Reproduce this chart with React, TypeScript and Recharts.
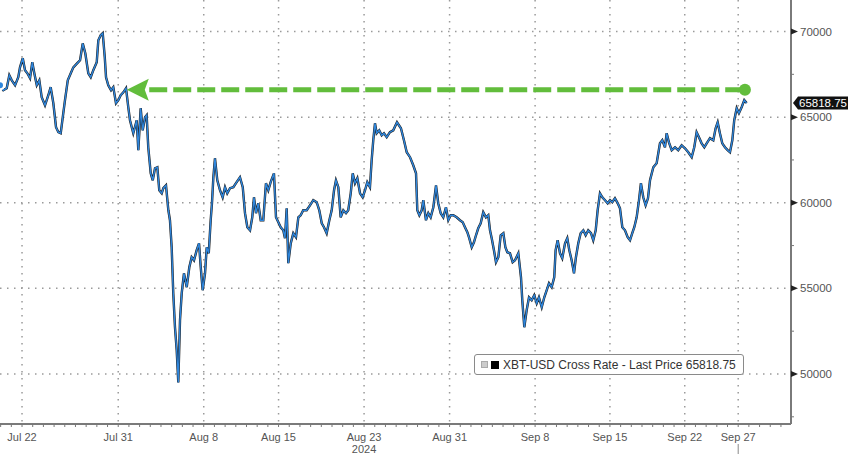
import {
  LineChart, Line, XAxis, YAxis, CartesianGrid, ReferenceLine, ReferenceDot, Legend,
} from 'recharts';

// days since Jul 22 2024 (00:00)
const DAYS = [
  -2.06, -1.75, -1.43, -1.19, -0.96, -0.65, -0.35, -0.19, 0.07, 0.28,
  0.50, 0.75, 0.96, 1.15, 1.38, 1.62, 1.84, 2.15, 2.46, 2.68,
  2.93, 3.18, 3.40, 3.62, 3.81, 4.02, 4.28, 4.56, 4.80, 5.17,
  5.43, 5.68, 5.92, 6.20, 6.43, 6.67, 6.99, 7.14, 7.36, 7.55,
  7.74, 7.86, 8.07, 8.33, 8.54, 8.79, 9.01, 9.23, 9.48, 9.73,
  9.94, 10.10, 10.41, 10.73, 10.88, 11.10, 11.29, 11.51, 11.66, 11.81,
  12.04, 12.23, 12.44, 12.66, 12.84, 13.07, 13.22, 13.47, 13.69, 13.84,
  14.00, 14.15, 14.31, 14.47, 14.62, 14.78, 14.94, 15.15, 15.41, 15.65,
  15.87, 16.09, 16.34, 16.56, 16.72, 16.90, 17.12, 17.28, 17.47, 17.65,
  17.77, 17.90, 18.05, 18.27, 18.52, 18.77, 18.99, 19.20, 19.46, 19.77,
  20.08, 20.39, 20.65, 20.86, 21.08, 21.33, 21.54, 21.70, 21.89, 22.10,
  22.33, 22.57, 22.82, 23.04, 23.26, 23.57, 23.76, 23.98, 24.20, 24.44,
  24.60, 24.76, 24.91, 25.14, 25.38, 25.63, 25.85, 26.07, 26.31, 26.63,
  26.94, 27.25, 27.57, 27.81, 28.04, 28.25, 28.50, 28.75, 28.97, 29.19,
  29.37, 29.59, 29.81, 30.06, 30.31, 30.52, 30.75, 30.94, 31.15, 31.37,
  31.62, 31.87, 32.09, 32.30, 32.55, 32.71, 32.86, 33.02, 33.18, 33.42,
  33.65, 33.86, 34.12, 34.42, 34.73, 35.08, 35.45, 35.73, 35.99, 36.30,
  36.60, 36.86, 36.98, 37.17, 37.39, 37.54, 37.79, 38.01, 38.23, 38.48,
  38.73, 38.94, 39.17, 39.41, 39.66, 39.88, 40.10, 40.35, 40.66, 40.97,
  41.23, 41.44, 41.66, 41.84, 42.07, 42.28, 42.47, 42.68, 42.91, 43.15,
  43.40, 43.62, 43.78, 43.94, 44.15, 44.34, 44.56, 44.78, 45.03, 45.22,
  45.40, 45.65, 45.90, 46.12, 46.43, 46.68, 46.80, 46.99, 47.21, 47.43,
  47.68, 47.92, 48.15, 48.36, 48.62, 48.86, 49.08, 49.30, 49.55, 49.79,
  49.92, 50.11, 50.33, 50.54, 50.80, 51.01, 51.20, 51.42, 51.64, 51.82,
  52.04, 52.26, 52.51, 52.73, 52.97, 53.23, 53.44, 53.67, 53.85, 54.07,
  54.29, 54.54, 54.79, 55.01, 55.22, 55.47, 55.73, 55.94, 56.16, 56.41,
  56.66, 56.88, 57.09, 57.28, 57.50, 57.72, 57.90, 58.12, 58.34, 58.56,
  58.75, 59.06, 59.37, 59.68, 59.90, 60.15, 60.31, 60.52, 60.78, 61.09,
  61.39, 61.71, 62.02, 62.33, 62.65, 62.89, 63.11, 63.33, 63.58, 63.83,
  64.05, 64.36, 64.67, 64.89, 65.08, 65.29, 65.51, 65.76, 66.01, 66.23,
  66.45, 66.63, 66.86, 67.07, 67.32, 67.57, 67.79,
];

const PRICES = [
  66860, 66570, 66690, 67450, 67150, 66860, 67330, 67910, 68440, 67740,
  67560, 67270, 68210, 67560, 66860, 67150, 66160, 65690, 66280, 66750,
  65810, 64410, 64120, 64060, 64990, 65990, 67150, 67560, 67910, 68150,
  68320, 69310, 68730, 67560, 67330, 67740, 68210, 69490, 69780, 69900,
  68500, 67330, 66860, 66570, 66750, 65810, 65990, 66280, 66450, 66690,
  65580, 64820, 64060, 64820, 63070, 65520, 64230, 64990, 65110, 63240,
  61720, 61310, 62010, 62070, 60730, 60550, 60850, 61020, 59560, 58980,
  57400, 54720, 52730, 51390, 49500, 53140, 54720, 55880, 55070, 56230,
  56820, 56640, 57230, 57630, 56230, 54890, 55880, 57400, 57050, 58980,
  59970, 61490, 62600, 61310, 60730, 60320, 60910, 60550, 60850, 60910,
  61200, 61490, 60910, 59390, 58570, 58390, 59150, 60320, 59390, 59970,
  58980, 58980, 61140, 60730, 61200, 61720, 59150, 58860, 58570, 58390,
  57930, 59680, 56470, 57630, 58220, 57990, 59150, 59270, 59560, 59560,
  59850, 60150, 60030, 59560, 58800, 58570, 58220, 58980, 59560, 60730,
  61310, 60910, 59150, 59560, 59390, 59560, 60550, 61720, 61140, 61430,
  60550, 60320, 60730, 61200, 60910, 62480, 63650, 64640, 64060, 64230,
  63940, 64060, 63830, 64120, 64230, 64700, 64350, 63650, 62950, 62660,
  62190, 61720, 59560, 59270, 59560, 60150, 58980, 59390, 59150, 59740,
  61020, 59970, 59390, 59150, 59740, 58980, 59270, 59270, 59150, 58980,
  58860, 58570, 58280, 57930, 57400, 57690, 58100, 58510, 58800, 59450,
  59150, 59270, 58390, 57930, 57230, 56530, 56820, 58100, 58220, 57400,
  57110, 57050, 56530, 56640, 57050, 55650, 54310, 52730, 53720, 54480,
  54310, 54600, 54130, 54480, 53900, 54480, 54890, 55300, 55070, 55650,
  57230, 57810, 57050, 56760, 57630, 57930, 57230, 56640, 55880, 56820,
  57630, 58220, 58390, 58100, 58390, 58220, 57810, 58390, 59560, 60550,
  60320, 60150, 59970, 60150, 60030, 60260, 59970, 59680, 58570, 58390,
  57990, 57810, 58220, 58570, 59150, 60150, 61140, 60320, 59850, 60260,
  61310, 62070, 62310, 63470, 63650, 63240, 64060, 63530, 63070, 63240,
  63070, 63360, 63180, 62950, 62660, 63240, 64120, 63830, 63470, 63240,
  63470, 63770, 63650, 64350, 64700, 64060, 63470, 63240, 63070, 62950,
  63650, 64820, 65520, 65230, 65580, 65990, 65818.75,
];

const SERIES_NAME = 'XBT-USD Cross Rate';
const LAST_PRICE = 65818.75;

const X_TICK_DAYS = [0, 9, 17, 24, 32, 40, 48, 55, 62, 67];
const X_TICK_LABELS = ['Jul 22', 'Jul 31', 'Aug 8', 'Aug 15', 'Aug 23', 'Aug 31', 'Sep 8', 'Sep 15', 'Sep 22', 'Sep 27'];
const YEAR_LABEL = '2024';
const YEAR_UNDER = 'Aug 23';
const X_MINOR_DAYS = Array.from({ length: 74 }, (_, i) => i - 2);

const Y_TICKS = [50000, 55000, 60000, 65000, 70000];
const Y_ALL_TICKS = [47500, 50000, 52500, 55000, 57500, 60000, 62500, 65000, 67500, 70000];

// green "round trip" level annotation
const LEVEL = 66600;
const LEVEL_FROM = 9.8;
const LEVEL_LINE_FROM = 11.9;
const LEVEL_TO = 67.63;

const GREEN = '#62bd3c';
const FONT = '"Liberation Sans", Arial, sans-serif';

const data = DAYS.map((d, i) => ({ d, p: PRICES[i] }));

const XTick = ({ x, y, payload }: any) => {
  const i = X_TICK_DAYS.indexOf(payload.value);
  const label = i >= 0 ? X_TICK_LABELS[i] : null;
  return (
    <g>
      <line x1={x} x2={x} y1={y} y2={y + 3} stroke="#777" />
      {label && (
        <text x={x} y={y + 17} textAnchor="middle" fontSize={11} fill="#555" fontFamily={FONT}>{label}</text>
      )}
      {label === YEAR_UNDER && (
        <text x={x} y={y + 29} textAnchor="middle" fontSize={11} fill="#555" fontFamily={FONT}>{YEAR_LABEL}</text>
      )}
      {i === X_TICK_DAYS.length - 1 && <line x1={x} x2={x} y1={y + 20} y2={y + 30} stroke="#888" />}
    </g>
  );
};

const YTick = ({ x, y, payload }: any) => {
  const v = payload.value;
  if (!Y_TICKS.includes(v)) {
    return <line x1={x} x2={x + 3} y1={y} y2={y} stroke="#777" />;
  }
  return (
    <g>
      <path d={`M${x},${y - 3} L${x + 7},${y} L${x},${y + 3} Z`} fill="#222" />
      <text x={x + 9} y={y + 4} fontSize={11.5} fill="#555" fontFamily={FONT}>{v}</text>
    </g>
  );
};

const PriceTag = ({ viewBox }: any) => {
  const x = viewBox.x + viewBox.width + 2;
  const y = viewBox.y;
  return (
    <g>
      <path d={`M${x},${y} L${x + 5},${y - 6.5} H${x + 62} V${y + 6.5} H${x + 5} Z`} fill="#111" />
      <text x={x + 6} y={y + 4} fontSize={11.5} fill="#fff" fontFamily={FONT}>{LAST_PRICE.toFixed(2)}</text>
    </g>
  );
};

const ArrowHead = ({ cx, cy }: any) => (
  <path d={`M${cx},${cy} L${cx + 22},${cy - 11} L${cx + 18},${cy} L${cx + 22},${cy + 11} Z`} fill={GREEN} />
);

const LegendBox = () => (
  <div style={{
    display: 'flex', alignItems: 'center', height: 21, padding: '0 6px',
    border: '1px solid #8a8a8a', borderRadius: 3, background: '#fff',
    fontFamily: FONT, fontSize: 12, color: '#333', boxSizing: 'border-box', whiteSpace: 'nowrap',
  }}>
    <span style={{ width: 5, height: 5, background: '#ccc', border: '1px solid #aaa', marginRight: 3 }} />
    <span style={{ width: 8, height: 8, background: '#000', marginRight: 4 }} />
    {SERIES_NAME} - Last Price {LAST_PRICE.toFixed(2)}
  </div>
);

export default function App() {
  return (
    <div style={{ position: 'absolute', left: 0, top: 0, width: 848, height: 454, background: '#fff' }}>
      <LineChart width={848} height={454} data={data} margin={{ top: 0, right: 0, bottom: 0, left: 0 }}>
        <CartesianGrid
          stroke="#9a9a9a"
          strokeWidth={1.5}
          strokeDasharray="1.5 5.5"
          horizontalValues={Y_TICKS}
          verticalValues={X_TICK_DAYS}
        />
        <XAxis
          dataKey="d"
          type="number"
          domain={[-2.06, 71.94]}
          allowDataOverflow
          ticks={X_MINOR_DAYS}
          interval={0}
          tick={<XTick />}
          tickLine={false}
          tickSize={0}
          tickMargin={0}
          height={30}
          axisLine={{ stroke: '#7a7a7a', strokeWidth: 2 }}
        />
        <YAxis
          orientation="right"
          type="number"
          domain={[47080, 71840]}
          allowDataOverflow
          ticks={Y_ALL_TICKS}
          interval={0}
          tick={<YTick />}
          tickLine={false}
          tickSize={0}
          tickMargin={0}
          width={57}
          axisLine={{ stroke: '#7a7a7a', strokeWidth: 2 }}
        />
        <Line type="linear" dataKey="p" stroke="#1b1b1b" strokeWidth={2.4} dot={false} isAnimationActive={false} />
        <Line type="linear" dataKey="p" stroke="#2f86dc" strokeWidth={1.4} dot={false} isAnimationActive={false} />
        <ReferenceLine
          segment={[{ x: LEVEL_LINE_FROM, y: LEVEL }, { x: LEVEL_TO, y: LEVEL }]}
          stroke={GREEN}
          strokeWidth={5}
          strokeDasharray="18 6"
        />
        <ReferenceDot x={LEVEL_FROM} y={LEVEL} shape={<ArrowHead />} />
        <ReferenceDot x={LEVEL_TO} y={LEVEL} r={6} fill={GREEN} stroke="none" />
        <ReferenceLine y={LAST_PRICE} strokeOpacity={0} label={(p: any) => <PriceTag {...p} />} />
        <Legend
          layout="horizontal"
          verticalAlign="middle"
          align="center"
          wrapperStyle={{ left: 474, top: 354, width: 270, height: 21 }}
          content={() => <LegendBox />}
        />
      </LineChart>
    </div>
  );
}
